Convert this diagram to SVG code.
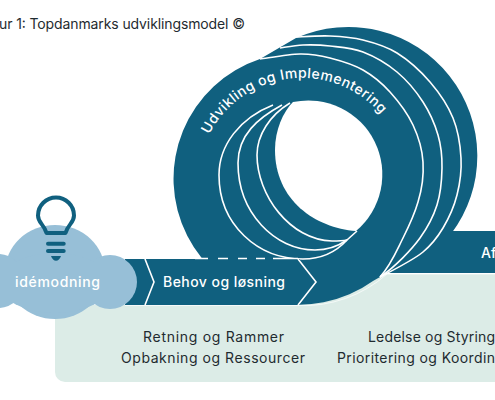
<svg xmlns="http://www.w3.org/2000/svg" width="495" height="400" viewBox="0 0 495 400">
<style>
text{font-family:"Inter","Open Sans",sans-serif}
.t{fill:#10607f}
.w{fill:#fff;font-size:14px;font-weight:500}
.d{fill:#1f2b30;font-size:14px;font-weight:400}
.l{fill:none;stroke:#fff;stroke-width:1.6}
.e{fill:none;stroke:#fff;stroke-width:1;opacity:.7}
</style>
<rect width="495" height="400" fill="#fff"/>
<g id="title"><text x="-1" y="29" class="d" textLength="246">ur 1: Topdanmarks udviklingsmodel ©</text></g>
<g id="panel">
<path d="M65,305H300V274H495V382H65a10,10 0 0 1-10-10V305Z" fill="#dcece7"/>
<text x="213.500" y="342" text-anchor="middle" class="d" textLength="141">Retning og Rammer</text>
<text x="213" y="363" text-anchor="middle" class="d" textLength="184">Opbakning og Ressourcer</text>
<text x="368" y="342" class="d" textLength="127">Ledelse og Styring</text>
<text x="337" y="363" class="d" textLength="158">Prioritering og Koordin</text>
</g>
<g id="loop">
<path d="M373,281A126,126 0 1 1 260,59L296,38A129,129 0 0 1 451,234L445,231H495V273H387Z" class="t"/>
<path d="M293,102A74,74 0 0 1 356,231C315,228 275,200 275,150C275,130 283,112 293,102Z" fill="#fff"/>
</g>
<g id="connectors">
<path class="l" d="M260,59C266.700,58.200 288.300,54.200 300,54C311.700,53.800 319.500,55.300 330,58C340.500,60.700 353,64.300 363,70C373,75.700 381.700,82.800 390,92C398.300,101.200 407.500,113.300 413,125C418.500,136.700 422.200,149.200 423,162C423.800,174.800 422,189 418,202C414,216 410,224 403,238C396,252 391,265 380,277"/>
<path class="l" d="M280,48C283.800,47.500 294.700,45.300 303,45C311.300,44.700 320,44.800 330,46C340,47.200 351.800,47.700 363,52C374.200,56.300 387,63.700 397,72C407,80.300 416.200,91.500 423,102C429.800,112.500 434.800,124 438,135C441.200,146 442.200,156.300 442,168C441.800,179.700 440.700,193.300 437,205C433.300,216.700 428.300,226.500 420,238C411.700,249.500 395,267 380,277"/>
<path class="l" d="M296,37C301.700,36.800 318.800,35.500 330,36C341.200,36.500 351.800,37.200 363,40C374.200,42.800 385.800,46 397,53C408.200,60 420.700,71.200 430,82C439.300,92.800 447.800,105.300 453,118C458.200,130.700 460.300,145.200 461,158C461.700,170.800 460,183.300 457,195C454,206.700 448.700,218.500 443,228C437.300,237.500 432.300,244.300 423,252C413.700,259.700 393,270.300 380,277"/>
<path class="l" d="M273,105C240,118 219,145 219,175C219,225 258,259 303,259C320,259 336,252 347,240L357,231"/>
<path class="l" d="M282,105C258,118 238,135 238,163C238,213 275,250 315,250C326,250 337,247 347,240"/>
<path class="l" d="M290,103C270,115 257,135 257,155C257,195 290,240 332,241C337,241 342,241 347,240"/>
<path class="e" d="M125,305.500H298A126,126 0 0 0 387,274H495"/>
</g>
<g id="behov">
<path d="M125,259H300V305H125Z" class="t"/>
<path class="l" d="M145,259L154,282L145,305M298,259L316,282L298,305"/>
<path class="l" stroke-width="2" d="M195,258.500H208M218,258.500H228M238,258.500H247M256,258.500H265M273,258.500H298"/>
<text x="163" y="287" class="w" textLength="122">Behov og løsning</text>
</g>
<g id="af"><text x="481" y="258" class="w">Af</text></g>
<g id="loop-label">
<path id="arc" d="M207,139A104,104 0 0 1 397,140" fill="none"/>
<text class="w" letter-spacing=".45"><textPath href="#arc" startOffset="5">Udvikling og Implementering</textPath></text>
</g>
<g id="idemodning">
<g fill="#97bfd7">
<ellipse cx="55" cy="272" rx="50" ry="47"/>
<ellipse cx="55" cy="283" rx="56" ry="30"/>
<circle cx="110" cy="282" r="27"/>
<circle cx="-2" cy="281" r="27"/>
<rect x="0" y="262" width="110" height="40"/>
</g>
<path d="M46.500,233C44,224 38,223 38,215.500A17.800,17.800 0 0 1 74,215.500C74,223 68,224 65.500,233Z" fill="none" stroke="#10607f" stroke-width="4" stroke-linejoin="round"/>
<rect x="46" y="241.700" width="19.700" height="4" rx="2" class="t"/>
<rect x="46" y="249" width="19.700" height="4" rx="2" class="t"/>
<path d="M51,256H61C60,259 58,260.700 56,260.700C54,260.700 52,259 51,256Z" class="t"/>
<text x="15" y="287" class="w" textLength="85">idémodning</text>
</g>
</svg>
